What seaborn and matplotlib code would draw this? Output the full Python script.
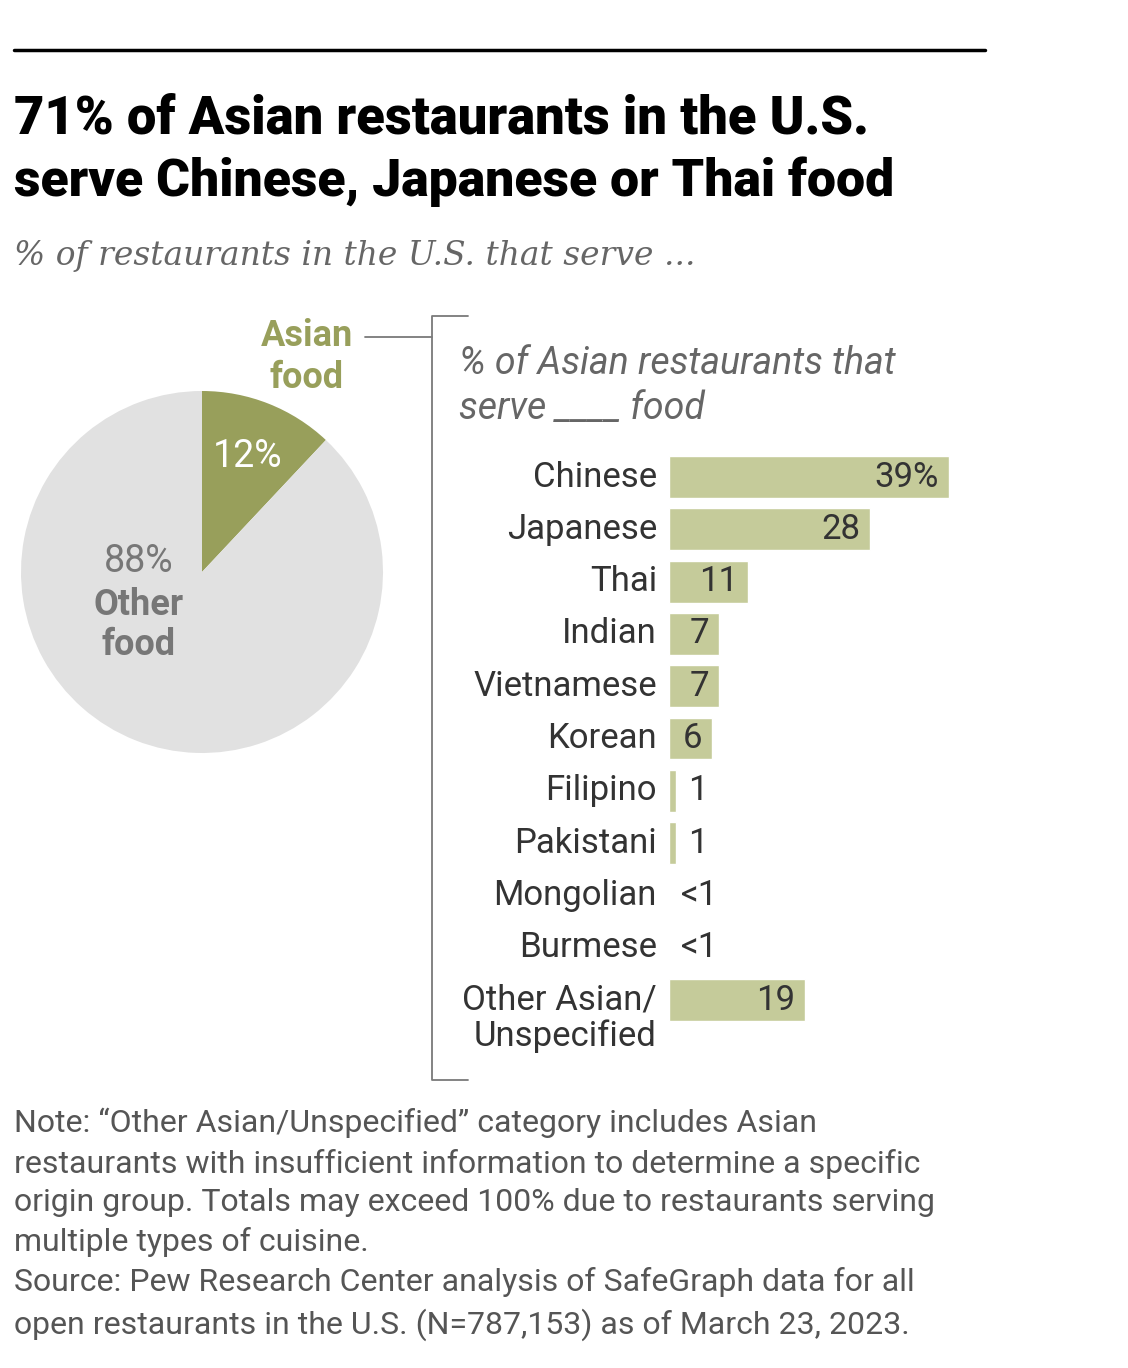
import matplotlib
matplotlib.use('Agg')
import matplotlib.pyplot as plt
import seaborn as sns
import pandas as pd

# pie data
pie_labels = ['Asian food', 'Other food']
pie_values = [12, 88]

# bar data (% of Asian restaurants)
cuisines = ['Chinese', 'Japanese', 'Thai', 'Indian', 'Vietnamese', 'Korean',
            'Filipino', 'Pakistani', 'Mongolian', 'Burmese', 'Other Asian/\nUnspecified']
shares = [39, 28, 11, 7, 7, 6, 1, 1, 0, 0, 19]
share_labels = ['39%', '28', '11', '7', '7', '6', '1', '1', '<1', '<1', '19']

OLIVE = '#989f5b'
BAR = '#c5cb9a'
PIE_GRAY = '#e1e1e1'
LINE_GRAY = '#7a7a7a'
TEXT = '#333333'

sns.set_theme(style='white')
plt.rcParams['font.family'] = ['Roboto', 'DejaVu Sans']

W, H = 1128, 1368
fig = plt.figure(figsize=(W / 100, H / 100), dpi=100)
fig.patch.set_facecolor('white')


def fx(px):
    return px / W


def fy(py):
    return 1 - py / H


# top rule
fig.add_artist(plt.Line2D([fx(14), fx(985)], [fy(50), fy(50)], color='black', lw=2.5))

# title + subtitle
fig.text(fx(14), fy(119), '71% of Asian restaurants in the U.S.', fontsize=37.8, fontweight='black',
         color='black', va='center', ha='left')
fig.text(fx(14), fy(182), 'serve Chinese, Japanese or Thai food', fontsize=37.3, fontweight='black',
         color='black', va='center', ha='left')
fig.text(fx(14), fy(256), '% of restaurants in the U.S. that serve ...', fontsize=23.7,
         family='DejaVu Serif', style='italic', color='#666666', va='center', ha='left')

# pie
cx, cy, r = 202, 572, 181
pie_ax = fig.add_axes([fx(cx - r), fy(cy + r), (2 * r) / W, (2 * r) / H])
pie_ax.pie(pie_values, colors=[OLIVE, PIE_GRAY], startangle=90, counterclock=False,
           wedgeprops=dict(linewidth=0))
pie_ax.set_xlim(-1, 1)
pie_ax.set_ylim(-1, 1)
pie_ax.set_aspect('auto')
pie_ax.axis('off')

fig.text(fx(248), fy(457), '12%', fontsize=27, color='white', ha='center', va='center')
fig.text(fx(139), fy(561), '88%', fontsize=27, color='#777777', ha='center', va='center')
fig.text(fx(139), fy(625), 'Other\nfood', fontsize=26, fontweight='bold', color='#777777',
         ha='center', va='center', linespacing=1.15)
fig.text(fx(307), fy(357), 'Asian\nfood', fontsize=26, fontweight='bold', color=OLIVE,
         ha='center', va='center', linespacing=1.2)

# connector + bracket
fig.add_artist(plt.Line2D([fx(365), fx(432)], [fy(337), fy(337)], color=LINE_GRAY, lw=1.3))
fig.add_artist(plt.Line2D([fx(468), fx(432), fx(432), fx(468)],
                          [fy(316), fy(316), fy(1080), fy(1080)], color=LINE_GRAY, lw=1.3))

fig.text(fx(459), fy(386), '% of Asian restaurants that\nserve ____ food', fontsize=27,
         style='italic', color='#666666', ha='left', va='center', linespacing=1.28)

# bars
row0, step = 477, 52.3
px_per_unit = 7.18
x0 = 669
n = len(cuisines)
top = row0 - step / 2
bottom = row0 + step * (n - 1) + step / 2
right = 985
bar_ax = fig.add_axes([fx(x0), fy(bottom), (right - x0) / W, (bottom - top) / H])
df = pd.DataFrame({'cuisine': cuisines, 'share': shares})
sns.barplot(data=df, x='share', y='cuisine', orient='h', color=BAR, width=0.8,
            saturation=1, ax=bar_ax)
bar_ax.set_xlim(0, (right - x0) / px_per_unit)
bar_ax.set_ylim(n - 0.5, -0.5)
bar_ax.axis('off')

for i, (name, val, lab) in enumerate(zip(cuisines, shares, share_labels)):
    lines = name.split('\n')
    for j, ln in enumerate(lines):
        bar_ax.text(-12 / px_per_unit, i + j * 0.69, ln, fontsize=25, color=TEXT,
                    ha='right', va='center')
    if val >= 5:
        bar_ax.text(val - 10 / px_per_unit, i, lab, fontsize=25, color=TEXT, ha='right', va='center')
    else:
        bar_ax.text(val + 12 / px_per_unit, i, lab, fontsize=25, color=TEXT, ha='left', va='center')

note = ('Note: \u201cOther Asian/Unspecified\u201d category includes Asian\n'
        'restaurants with insufficient information to determine a specific\n'
        'origin group. Totals may exceed 100% due to restaurants serving\n'
        'multiple types of cuisine.\n'
        'Source: Pew Research Center analysis of SafeGraph data for all\n'
        'open restaurants in the U.S. (N=787,153) as of March 23, 2023.')
fig.text(fx(14), fy(1108), note, fontsize=23, color='#555555', ha='left', va='top',
         linespacing=1.42)

fig.savefig('out.png', dpi=100, facecolor='white')
